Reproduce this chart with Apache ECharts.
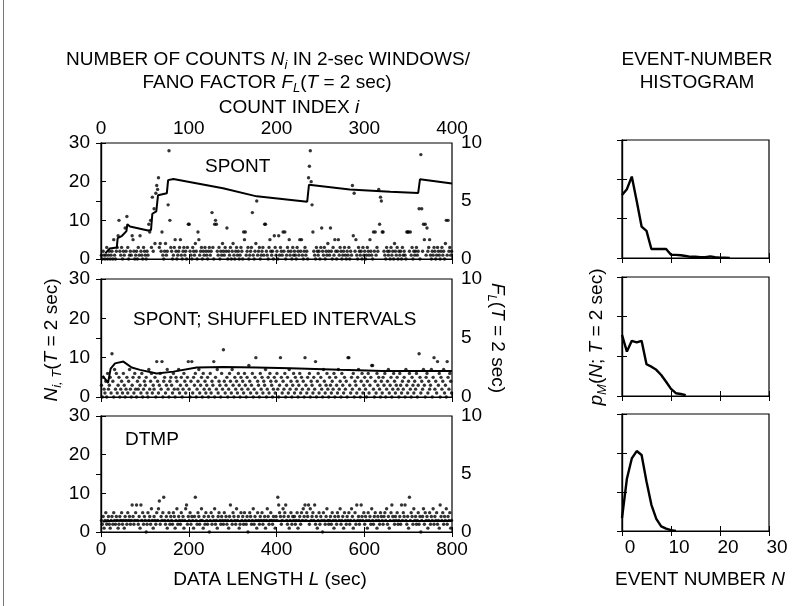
<!DOCTYPE html>
<html><head><meta charset="utf-8">
<script src="https://cdn.jsdelivr.net/npm/echarts/dist/echarts.min.js"></script>
<style>html,body{margin:0;padding:0;background:#fff}#c{width:806px;height:606px}</style>
</head><body><div id="c"></div><script>
// ---- data: counts N_i in 2-sec windows (count index i = 0..399) ----
const spontCounts = [
1,0,2,1,0,1,3,0,1,2,0,1,2,0,5,1,0,2,3,6,
10,2,1,3,0,2,1,8,2,11,3,0,1,2,1,6,5,2,0,1,
2,0,3,1,6,2,1,0,3,2,1,0,2,1,9,7,10,3,16,2,
13,4,17,19,18,21,3,4,2,7,1,0,2,4,1,2,14,28,10,3,
2,0,1,3,5,2,0,1,2,3,5,1,0,2,3,1,2,0,3,9,
9,2,1,0,3,2,1,4,2,0,7,5,1,2,3,0,2,1,3,2,
1,0,2,3,1,2,12,3,0,9,10,9,2,1,3,0,2,1,4,2,
1,3,2,8,0,2,1,3,0,2,4,1,0,2,3,1,2,0,1,3,
2,0,7,5,7,1,2,3,0,1,2,3,12,1,0,2,4,15,1,2,
3,0,1,2,3,1,9,9,2,1,0,3,5,2,1,2,0,6,3,1,
2,0,6,1,3,2,1,7,2,7,0,1,3,2,5,1,2,0,3,1,
2,1,0,3,2,1,5,2,5,1,0,2,3,1,2,0,21,24,28,20,
14,7,2,1,0,3,2,1,2,0,3,8,2,1,3,0,2,1,4,2,
1,8,2,0,3,1,5,2,0,2,5,1,3,2,0,1,2,3,1,0,
2,1,3,0,2,1,19,6,17,2,5,1,0,3,2,1,2,0,3,1,
2,0,1,3,2,1,5,2,1,0,7,2,7,1,3,2,18,9,16,15,
7,7,2,1,0,3,2,1,2,0,3,1,2,0,4,2,1,3,0,2,
1,2,0,3,1,2,1,0,7,7,7,2,7,1,3,0,2,1,2,3,
1,2,13,0,27,13,2,9,5,9,1,8,2,3,5,1,0,2,1,3,
2,0,1,3,2,1,0,2,3,1,2,0,4,10,1,10,2,3,1,2];
const shuffledCounts = [
3,0,5,2,1,4,0,6,2,3,5,1,11,4,0,7,2,6,1,3,
5,0,2,4,1,6,3,0,2,5,1,4,7,2,0,3,5,1,6,2,
0,4,2,5,3,1,6,0,2,4,3,5,1,0,7,2,4,6,1,3,
2,5,0,9,4,1,3,6,2,9,0,4,5,1,3,7,2,0,4,5,
3,1,6,2,0,5,4,2,7,1,3,5,0,2,6,4,1,3,5,9,
2,0,4,9,1,5,3,6,0,2,4,7,1,3,5,0,6,2,4,1,
3,5,0,2,6,1,4,3,9,0,5,2,7,1,4,3,0,6,2,12,
4,1,3,5,0,2,6,4,1,7,3,0,5,2,4,1,6,3,0,5,
2,4,1,6,3,0,5,2,8,4,1,3,6,0,2,5,10,1,4,3,
0,6,2,5,1,4,3,7,0,2,5,1,6,4,3,0,2,5,1,4,
6,2,0,3,10,5,1,4,2,6,0,3,5,1,7,2,4,0,3,6,
1,5,2,4,0,3,6,1,5,2,4,0,10,3,1,5,2,6,0,4,
3,1,5,2,9,0,4,6,1,3,5,2,0,7,4,1,3,6,2,0,
5,3,1,4,2,6,0,5,3,1,7,2,4,0,6,3,1,5,2,4,
0,10,10,3,1,5,2,6,0,4,3,1,5,7,2,0,4,6,1,3,
5,2,0,4,6,1,3,5,8,8,2,0,4,1,6,3,5,2,0,4,
1,5,3,6,0,2,4,7,1,3,5,0,2,6,4,1,3,5,2,0,
6,3,1,4,2,5,0,7,3,1,4,6,2,0,5,3,1,4,2,6,
0,3,11,5,1,4,2,7,3,0,5,6,1,4,2,3,7,0,5,10,
2,4,1,9,3,6,0,5,2,4,7,1,3,0,9,5,2,6,4,1];
const dtmpCounts = [
3,2,4,1,3,5,2,3,4,2,1,3,4,2,5,3,2,4,3,1,
2,4,3,5,2,3,1,4,3,2,5,3,4,2,3,7,4,2,3,5,
7,3,2,4,1,7,3,5,2,4,3,0,2,5,3,4,2,6,3,1,
4,3,2,5,3,6,8,2,4,3,5,9,3,2,4,1,3,5,2,4,
3,2,5,4,1,3,6,2,4,3,2,5,3,4,1,3,6,7,2,4,
3,5,2,4,3,1,4,9,3,2,5,4,2,3,6,3,1,4,2,5,
3,2,4,0,3,5,2,4,3,6,2,3,1,4,5,3,2,4,3,2,
5,3,4,2,3,1,4,7,3,2,5,4,3,2,6,3,4,1,2,5,
3,4,2,5,3,2,4,0,3,5,4,2,3,6,2,4,3,1,5,3,
2,4,3,5,2,3,4,1,3,6,4,2,3,5,3,2,4,3,1,4,
3,9,7,5,4,2,3,6,4,5,7,3,2,4,1,3,5,2,4,3,
4,2,3,5,1,3,4,2,5,3,6,4,7,3,5,4,7,2,6,3,
4,5,3,7,2,4,1,3,5,2,4,3,0,5,3,2,4,6,3,2,
3,4,2,5,3,1,4,3,2,5,4,3,6,2,3,4,1,5,3,2,
4,3,5,2,3,6,4,1,3,5,2,7,3,4,2,3,7,4,3,5,
2,4,3,1,5,3,4,2,6,3,2,4,5,3,1,4,3,2,5,4,
3,2,4,5,3,6,2,4,1,3,5,7,4,3,2,4,3,5,2,3,
4,2,7,3,5,4,7,3,2,4,1,9,3,5,4,2,6,3,4,2,
3,5,2,4,0,3,4,6,2,5,3,4,1,3,5,2,4,3,6,2,
4,3,5,2,3,1,7,4,3,5,2,4,3,6,2,4,3,5,1,3];

// ---- Fano factor F_L(T=2 sec) vs data length L (sec) ----
const spontFanoL = [10,20,36,38,48,58,60,66,107,114,117,126,130,150,153,165,278,355,470,474,567,659,723,727,800];
const spontFanoF = [0.5,0.9,1.0,1.8,2.0,2.4,3.0,2.8,2.45,2.5,3.9,4.1,5.5,5.66,6.8,6.9,6.1,5.4,4.94,6.4,6.0,5.8,5.7,6.87,6.5];
const shufFanoL = [4,16,22,32,51,70,89,127,165,218,279,355,431,545,643,800];
const shufFanoF = [1.8,1.2,2.4,2.85,3.0,2.5,2.3,2.0,2.15,2.5,2.55,2.5,2.43,2.3,2.2,2.2];
const dtmpFanoL = [4,40,200,400,600,800];
const dtmpFanoF = [0.9,1.0,0.95,0.97,0.95,0.95];

// ---- event-number histograms p_M(N; T = 2 sec) ----
const spontHistN = [0,1,2,3,4,5,6,7,8,9,10,11,12,13,14,15,16,17,18,19,20,21,22];
const spontHistP = [1.60,1.75,2.07,1.45,0.80,0.69,0.23,0.23,0.23,0.23,0.08,0.08,0.07,0.05,0.03,0.03,0.02,0.02,0.04,0.02,0.01,0.01,0];
const shufHistN = [0,1,2,3,4,5,6,7,8,9,10,11,12,13];
const shufHistP = [1.54,1.12,1.39,1.35,1.39,0.80,0.74,0.66,0.53,0.36,0.18,0.07,0.05,0.02];
const dtmpHistN = [0,1,2,3,4,5,6,7,8,9,10,11];
const dtmpHistP = [0.33,1.34,1.86,2.05,1.95,1.27,0.67,0.31,0.12,0.06,0.02,0];

// ---- tick labels / axis ranges ----
const timeTicks = [0,800,200];
const indexTicks = [0,400,100];
const countTicks = [0,30,10];
const fanoTicks = [0,10,5];
const eventTicks = [0,30,10];

const FONT = "'Liberation Sans', Arial, Helvetica, sans-serif";
const FS = 19;
const BLACK = '#000';
const chart = echarts.init(document.getElementById('c'), null, {renderer:'canvas'});

const grids = [
  {left:101, top:143, width:351, height:116},
  {left:101, top:279, width:351, height:118},
  {left:101, top:416, width:351, height:116},
  {left:622, top:140, width:147, height:118},
  {left:622, top:277, width:147, height:119},
  {left:622, top:414, width:147, height:117}
].map(g => Object.assign({show:true, borderColor:BLACK, borderWidth:1.2, backgroundColor:'transparent'}, g));

const lbl = (show, extra) => Object.assign({show, color:BLACK, fontSize:FS, fontFamily:FONT}, extra||{});
const tick = {show:true, inside:true, length:5, lineStyle:{color:BLACK, width:1}};
const line = {show:true, lineStyle:{color:BLACK, width:1.2}};

const xAxes = [], yAxes = [];
for (let k=0;k<3;k++){
  xAxes.push({type:'value', gridIndex:k, position:'bottom', min:timeTicks[0], max:timeTicks[1], interval:timeTicks[2],
    axisLine:line, axisTick:tick, splitLine:{show:false}, axisLabel:lbl(k===2,{margin:8})});
  xAxes.push({type:'value', gridIndex:k, position:'top', min:indexTicks[0], max:indexTicks[1], interval:indexTicks[2],
    axisLine:line, axisTick:tick, splitLine:{show:false}, axisLabel:lbl(k===0,{margin:5})});
  yAxes.push({type:'value', gridIndex:k, position:'left', min:countTicks[0], max:countTicks[1], interval:countTicks[2],
    axisLine:line, axisTick:tick, splitLine:{show:false}, axisLabel:lbl(true,{margin:11})});
  yAxes.push({type:'value', gridIndex:k, position:'right', min:fanoTicks[0], max:fanoTicks[1], interval:fanoTicks[2],
    axisLine:line, axisTick:tick, splitLine:{show:false}, axisLabel:lbl(true,{margin:9})});
}
for (let k=3;k<6;k++){
  xAxes.push({type:'value', gridIndex:k, position:'bottom', min:eventTicks[0], max:eventTicks[1], interval:eventTicks[2],
    axisLine:line, axisTick:tick, splitLine:{show:false}, axisLabel:lbl(k===5,{margin:7, padding:[0,0,0,16]})});
  xAxes.push({type:'value', gridIndex:k, position:'top', min:eventTicks[0], max:eventTicks[1], interval:eventTicks[2],
    axisLine:line, axisTick:tick, splitLine:{show:false}, axisLabel:{show:false}});
  yAxes.push({type:'value', gridIndex:k, position:'left', min:0, max:3, interval:1,
    axisLine:line, axisTick:tick, splitLine:{show:false}, axisLabel:{show:false}});
  yAxes.push({type:'value', gridIndex:k, position:'right', min:0, max:3, interval:1,
    axisLine:line, axisTick:tick, splitLine:{show:false}, axisLabel:{show:false}});
}

const countsSets = [spontCounts, shuffledCounts, dtmpCounts];
const fanoSets = [[spontFanoL, spontFanoF],[shufFanoL, shufFanoF],[dtmpFanoL, dtmpFanoF]];
const histSets = [[spontHistN, spontHistP],[shufHistN, shufHistP],[dtmpHistN, dtmpHistP]];
const series = [];
countsSets.forEach((c,k)=>{
  series.push({type:'scatter', xAxisIndex:2*k, yAxisIndex:2*k, symbol:'circle', symbolSize:3.4,
    itemStyle:{color:BLACK}, silent:true, animation:false,
    data:c.map((v,i)=>[2*i+1, v])});
});
fanoSets.forEach((f,k)=>{
  series.push({type:'line', xAxisIndex:2*k, yAxisIndex:2*k+1, showSymbol:false, symbol:'none',
    lineStyle:{color:BLACK, width:2}, animation:false, silent:true,
    data:f[0].map((x,i)=>[x, f[1][i]])});
});
histSets.forEach((h,k)=>{
  const g = k+3;
  series.push({type:'line', xAxisIndex:2*g, yAxisIndex:2*g, showSymbol:false, symbol:'none',
    lineStyle:{color:BLACK, width:2.4}, animation:false, silent:true,
    data:h[0].map((x,i)=>[x, h[1][i]])});
});

const rich = {
  n:{fontSize:FS, fontFamily:FONT, color:BLACK, lineHeight:23},
  i:{fontSize:FS, fontFamily:FONT, color:BLACK, fontStyle:'italic', lineHeight:23},
  s:{fontSize:13, fontFamily:FONT, color:BLACK, fontStyle:'italic', lineHeight:13, verticalAlign:'bottom'}
};
function txt(text, x, y, align, rot){
  return {type:'text', x:x, y:y, rotation:rot||0, silent:true,
    style:{text:text, rich:rich, font:FS+'px '+FONT, fill:BLACK,
      textAlign:align||'center', textVerticalAlign:'middle', align:align||'center', verticalAlign:'middle'}};
}
const graphics = [
  txt('{n|NUMBER OF COUNTS }{i|N}{s|i}{n| IN 2-sec WINDOWS/}', 268, 60),
  txt('{n|FANO FACTOR }{i|F}{s|L}{n|(}{i|T}{n| = 2 sec)}', 267, 83),
  txt('{n|COUNT INDEX }{i|i}', 289, 108),
  txt('{n|EVENT-NUMBER}', 697, 60),
  txt('{n|HISTOGRAM}', 697, 83),
  txt('{n|SPONT}', 205, 167, 'left'),
  txt('{n|SPONT; SHUFFLED INTERVALS}', 133, 320, 'left'),
  txt('{n|DTMP}', 125, 440, 'left'),
  txt('{n|DATA LENGTH }{i|L}{n| (sec)}', 270, 580),
  txt('{n|EVENT NUMBER }{i|N}', 700, 580),
  txt('{i|N}{s|i, T}{n|(}{i|T}{n| = 2 sec)}', 52, 340, 'center', Math.PI/2),
  txt('{i|F}{s|L}{n|(}{i|T}{n| = 2 sec)}', 497, 338, 'center', -Math.PI/2),
  txt('{i|p}{s|M}{n|(}{i|N}{n|; }{i|T}{n| = 2 sec)}', 597, 337, 'center', Math.PI/2),
  {type:'line', silent:true, shape:{x1:3.5, y1:0, x2:3.5, y2:606}, style:{stroke:'#777', lineWidth:1}}
];

chart.setOption({
  animation:false,
  backgroundColor:'#fff',
  grid:grids, xAxis:xAxes, yAxis:yAxes, series:series, graphic:graphics
});
</script></body></html>
